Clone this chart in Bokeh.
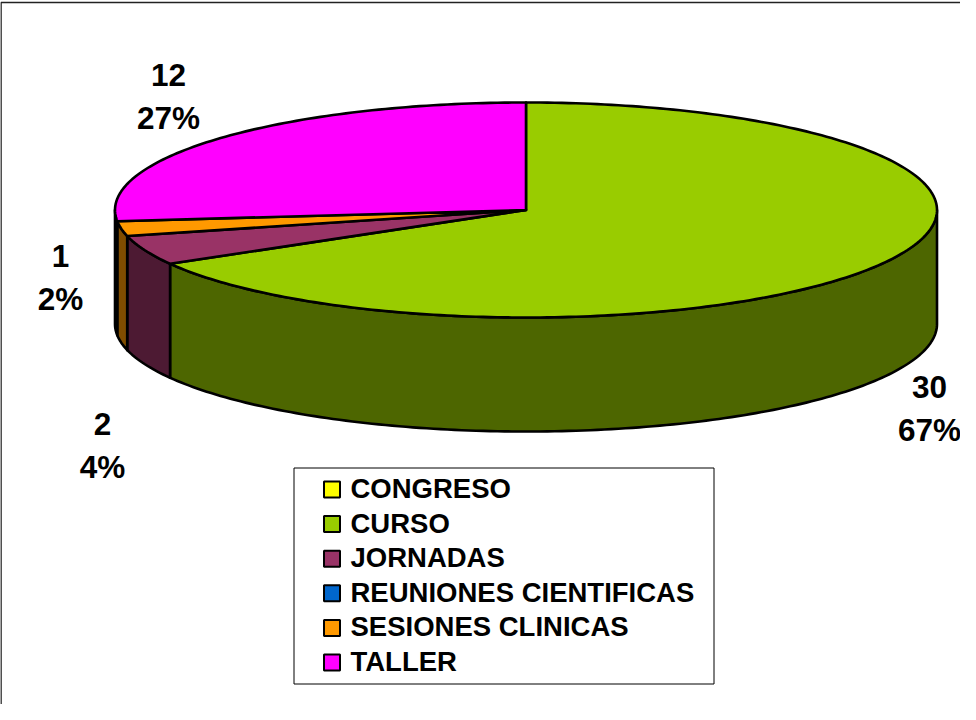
from math import cos, sin, radians
from bokeh.plotting import figure
from bokeh.embed import file_html
from bokeh.resources import INLINE
from bokeh.core.properties import value
from bokeh.models import ColumnDataSource

categories = ["CONGRESO", "CURSO", "JORNADAS", "REUNIONES CIENTIFICAS", "SESIONES CLINICAS", "TALLER"]
counts = [0, 30, 2, 0, 1, 12]
top_colors = ["#FFFF00", "#99CC00", "#993366", "#0066CC", "#FF9900", "#FF00FF"]
side_colors = ["#808000", "#4D6600", "#4D1A33", "#003366", "#804D00", "#800080"]
label_centers = {1: (937, 394), 2: (110, 431), 4: (68, 263), 5: (176, 82)}

CX, CY, RX, RY, DEPTH = 533.5, 217.5, 411, 107.5, 114
FONT = "Liberation Sans"

p = figure(width=960, height=704, output_backend="svg", toolbar_location=None,
           x_range=(8, 968), y_range=(712, 8), min_border=0,
           x_axis_type=None, y_axis_type=None, outline_line_color=None)
p.grid.visible = False
p.background_fill_color = "white"


def pt(a, dy=0):
    return CX + RX * cos(radians(a)), CY - RY * sin(radians(a)) + dy


def arc(a0, a1, dy=0):
    n = max(2, int(abs(a1 - a0)) + 1)
    return [pt(a0 + (a1 - a0) * i / (n - 1), dy) for i in range(n)]


total = sum(counts)
start = 90.0
spans = []
for c in counts:
    end = start - 360.0 * c / total
    spans.append((start, end))
    start = end

# side walls: only the front half of the rim shows
wx, wy, wc = [], [], []
for i in sorted(range(len(counts)), key=lambda k: -spans[k][1]):
    a0, a1 = spans[i]
    if counts[i] == 0:
        continue
    lo, hi = max(a1, -180), min(a0, 0)
    if hi > lo:
        pts = arc(hi, lo) + arc(lo, hi, DEPTH)
        wx.append([q[0] for q in pts])
        wy.append([q[1] for q in pts])
        wc.append(side_colors[i])
p.patches("x", "y", source=ColumnDataSource(dict(x=wx, y=wy, c=wc)), fill_color="c",
          line_color="black", line_width=2.6, line_join="round")

# top face
tx, ty, tc = [], [], []
for i, (a0, a1) in enumerate(spans):
    if counts[i] == 0:
        continue
    pts = [(CX, CY)] + arc(a0, a1)
    tx.append([q[0] for q in pts])
    ty.append([q[1] for q in pts])
    tc.append(top_colors[i])
p.patches("x", "y", source=ColumnDataSource(dict(x=tx, y=ty, c=tc)), fill_color="c",
          line_color="black", line_width=2.6, line_join="round")

# data labels
lx, ly, lt = [], [], []
for i, (x, y) in label_centers.items():
    lx += [x, x]
    ly += [y, y + 43]
    lt += [str(counts[i]), f"{round(100 * counts[i] / total)}%"]
p.text(lx, ly, text=lt, text_font=value(FONT), text_font_style="bold", text_font_size="31.5px",
       text_align="center", text_baseline="middle", text_color="black")

# legend
p.quad(left=[301.5], right=[721.5], top=[475.5], bottom=[691.5], fill_color="white",
       line_color="black", line_width=1)
rows = [497 + 34.6 * i for i in range(len(categories))]
p.rect([339.5] * len(rows), rows, width=16, height=16, fill_color=top_colors,
       line_color="black", line_width=2)
p.text([358] * len(rows), [r - 1 for r in rows], text=categories, text_font=value(FONT),
       text_font_style="bold", text_font_size="27.5px", text_align="left",
       text_baseline="middle", text_color="black")

# chart frame: only the left and top edges fall inside the picture
p.line([8.5, 8.5, 968], [712, 10, 10], line_color="#222222", line_width=1.6)

open("out.html", "w").write(file_html(p, INLINE))
